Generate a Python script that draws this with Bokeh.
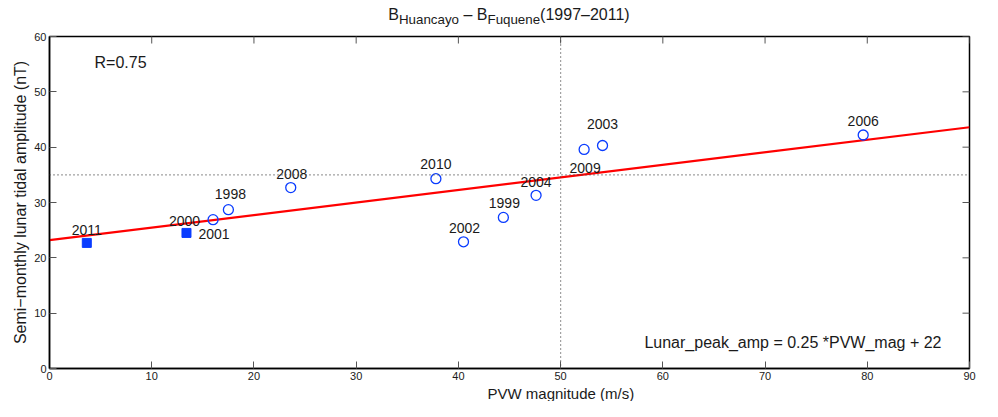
import math
from bokeh.plotting import figure
from bokeh.models import ColumnDataSource, Label, Span, Range1d, FixedTicker, Title, Div
from bokeh.layouts import column
from bokeh.embed import file_html
from bokeh.resources import INLINE
from bokeh.core.properties import value

# ---- data ----
years = ["1998", "1999", "2000", "2002", "2003", "2004", "2006", "2008", "2009", "2010"]
pvw = [17.5, 44.4, 16.0, 40.5, 54.1, 47.6, 79.6, 23.6, 52.3, 37.8]
amp = [28.7, 27.3, 26.9, 22.9, 40.3, 31.3, 42.2, 32.7, 39.6, 34.3]

sq_years = ["2001", "2011"]
sq_pvw = [13.4, 3.65]
sq_amp = [24.5, 22.7]

fit_slope = 0.2267
fit_intercept = 23.2
fit_x = [0, 90]

ref_amp = 35
ref_pvw = 50

x_min, x_max = 0, 90
y_min, y_max = 0, 60
x_ticks = [0, 10, 20, 30, 40, 50, 60, 70, 80, 90]
y_ticks = [0, 10, 20, 30, 40, 50, 60]

title_html = "B<sub>Huancayo</sub> \u2013 B<sub>Fuquene</sub>(1997\u20132011)"
x_label = "PVW magnitude (m/s)"
y_label = "Semi\u2212monthly lunar tidal amplitude (nT)"

# label offsets (style, pixels)
lab_dx = [2, 1, -13, 1, 0, 0, 0, 1, 1, 0]
lab_dy = [-16, -14, 1, -14, -22, -13, -14, -14, 19, -15]
lab_align = ["center", "center", "right", "center", "center", "center", "center", "center", "center", "center"]
sq_dx = [12, 0]
sq_dy = [1, -13]
sq_align = ["left", "center"]

FONT = "Liberation Sans"
BLUE = "#0a3cff"
TXT = "#1a1a1a"
TICK = "#555555"

title_div = Div(text=title_html, width=920, height=30, margin=(0, 0, 0, 49),
                styles={"font-family": FONT, "font-size": "16px", "text-align": "center",
                        "color": TXT, "line-height": "30px", "width": "920px"})

p = figure(width=982, height=371, output_backend="svg", toolbar_location=None,
           x_range=Range1d(x_min, x_max), y_range=Range1d(y_min, y_max),
           min_border_left=49, min_border_right=13, min_border_top=6, min_border_bottom=30)
p.background_fill_color = "white"
p.border_fill_color = "white"
p.outline_line_color = "black"
p.outline_line_width = 1.5
p.xgrid.visible = False
p.ygrid.visible = False

for ax in (p.xaxis[0], p.yaxis[0]):
    ax.major_tick_in = 7
    ax.major_tick_out = 0
    ax.minor_tick_in = 0
    ax.minor_tick_out = 0
    ax.major_tick_line_color = TICK
    ax.axis_line_color = "black"
    ax.axis_line_width = 1.5
    ax.major_label_text_font = FONT
    ax.major_label_text_font_size = "11px"
    ax.major_label_text_color = TXT
    ax.axis_label_text_font = FONT
    ax.axis_label_text_font_size = "16px"
    ax.axis_label_text_font_style = "normal"
    ax.axis_label_text_color = TXT
    ax.major_label_standoff = 3
    ax.axis_label_standoff = 2

p.xaxis[0].ticker = FixedTicker(ticks=x_ticks)
p.yaxis[0].ticker = FixedTicker(ticks=y_ticks)
p.yaxis[0].axis_label = y_label

# x-axis label: sits under x = 50 as in the original
p.add_layout(Title(text=x_label, align="left", offset=438, standoff=0,
                   text_font=FONT, text_font_size="15px", text_font_style="normal",
                   text_color=TXT), "below")

# mirrored inner ticks on the top and right edges (half of each dash is clipped by the frame)
p.scatter(x_ticks, [y_max] * len(x_ticks), marker="dash", angle=math.pi / 2, size=14,
          line_color=TICK, line_width=1)
p.scatter([x_max] * len(y_ticks), y_ticks, marker="dash", size=14,
          line_color=TICK, line_width=1)

# reference lines
p.add_layout(Span(location=ref_amp, dimension="width", line_color="#444444",
                  line_dash="1 3", line_width=1.2))
p.add_layout(Span(location=ref_pvw, dimension="height", line_color="#444444",
                  line_dash="1 3", line_width=1.2))

# fit line
fit_y = [fit_slope * x + fit_intercept for x in fit_x]
p.line(fit_x, fit_y, line_color="#ff0000", line_width=2.2)

src = ColumnDataSource(dict(x=pvw, y=amp, t=years, dx=lab_dx, dy=lab_dy, al=lab_align))
p.scatter("x", "y", source=src, marker="circle", size=10, fill_color=None,
          line_color=BLUE, line_width=1.3)
p.text("x", "y", text="t", source=src, x_offset="dx", y_offset="dy", text_align="al",
       text_baseline="middle", text_font=value(FONT), text_font_size="14px", text_color=TXT)

ssrc = ColumnDataSource(dict(x=sq_pvw, y=sq_amp, t=sq_years, dx=sq_dx, dy=sq_dy, al=sq_align))
p.scatter("x", "y", source=ssrc, marker="square", size=9, fill_color=BLUE, line_color=BLUE)
p.text("x", "y", text="t", source=ssrc, x_offset="dx", y_offset="dy", text_align="al",
       text_baseline="middle", text_font=value(FONT), text_font_size="14px", text_color=TXT)

# annotations
p.add_layout(Label(x=45, y=y_max, y_offset=-26, x_units="screen", text="R=0.75",
                   text_font=FONT, text_font_size="16px", text_baseline="middle", text_color=TXT))
p.add_layout(Label(x=892, y=y_min, y_offset=26, x_units="screen",
                   text="Lunar_peak_amp = 0.25 *PVW_mag + 22", text_align="right",
                   text_font=FONT, text_font_size="16px", text_baseline="middle", text_color=TXT))

layout = column(title_div, p, spacing=0)
open("out.html", "w").write(file_html(layout, INLINE))
